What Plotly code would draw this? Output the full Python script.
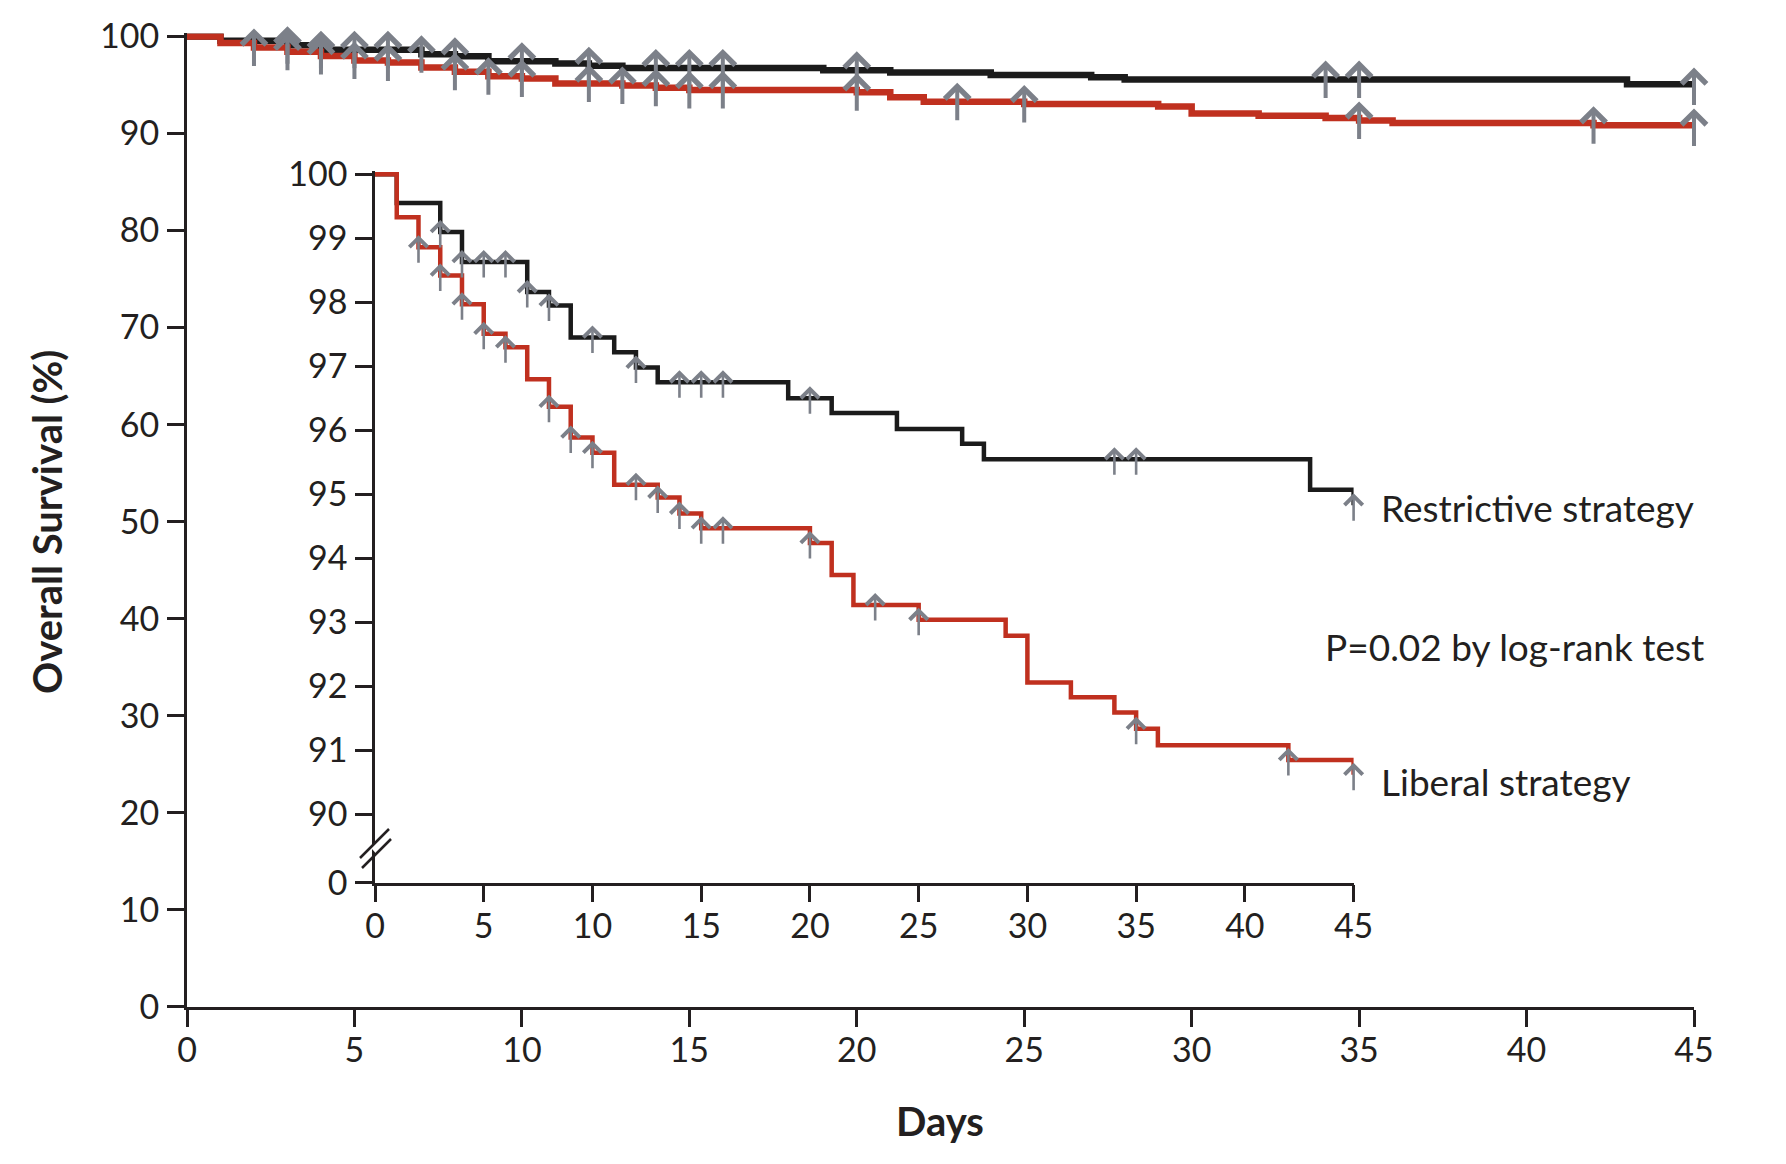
import plotly.graph_objects as go

# ---------------- data ----------------
days_restrictive = [0, 1, 3, 4, 7, 8, 9, 11, 12, 13, 19, 21, 24, 27, 28, 43, 45]
surv_restrictive = [100, 99.55, 99.10, 98.63, 98.16, 97.95, 97.45, 97.22, 96.98,
                    96.75, 96.50, 96.27, 96.02, 95.79, 95.55, 95.07, 94.83]
censor_restrictive = [3, 4, 5, 6, 7, 8, 10, 12, 14, 15, 16, 20, 34, 35, 45]

days_liberal = [0, 1, 2, 3, 4, 5, 6, 7, 8, 9, 10, 11, 13, 14, 15, 20, 21, 22, 25,
                29, 30, 32, 34, 35, 36, 42, 45]
surv_liberal = [100, 99.33, 98.86, 98.42, 97.97, 97.51, 97.30, 96.80, 96.37, 95.89,
                95.65, 95.15, 94.95, 94.70, 94.47, 94.24, 93.74, 93.27, 93.04, 92.79,
                92.06, 91.83, 91.59, 91.34, 91.08, 90.85, 90.62]
censor_liberal = [2, 3, 4, 5, 6, 8, 9, 10, 12, 13, 14, 15, 16, 20, 23, 25, 35, 42, 45]

x_ticks = [0, 5, 10, 15, 20, 25, 30, 35, 40, 45]
main_y_ticks = [0, 10, 20, 30, 40, 50, 60, 70, 80, 90, 100]
inset_y_ticks = [90, 91, 92, 93, 94, 95, 96, 97, 98, 99, 100]
inset_zero_label = "0"

label_restrictive = "Restrictive strategy"
label_liberal = "Liberal strategy"
p_text = "P=0.02 by log-rank test"
y_title = "Overall Survival (%)"
x_title = "Days"

# ---------------- styling / geometry ----------------
PAGE_W, PAGE_H = 1786, 1164
BODY = 8                      # default page margin around the figure
W, H = PAGE_W - 2 * BODY, PAGE_H - 2 * BODY
BLACK = "#1b1b1b"
RED = "#c0301f"
GRAY = "#7c8089"
TEXT = "#231f20"
FONT = "Lato"

# main plot (page-pixel positions of axis ends)
M_X0, M_X45 = 187.0, 1694.0
M_Y0, M_Y100 = 1007.0, 36.4
M_YTOP = 100.3
# inset
I_X0, I_X45 = 375.0, 1353.6
I_Y100, I_Y90, I_YBOT = 174.3, 814.4, 882.7
I_YTOP = 100.05

m_scale = (M_Y0 - M_Y100) / 100.0
i_scale = (I_Y90 - I_Y100) / 10.0
inset_bottom = 90 - (I_YBOT - I_Y90) / i_scale


def px_x(p):
    return (p - BODY) / W


def px_y(p):
    return 1 - (p - BODY) / H


main_xdom = [px_x(M_X0), px_x(M_X45)]
main_ydom = [px_y(M_Y0), px_y(M_Y0 - M_YTOP * m_scale)]
inset_xdom = [px_x(I_X0), px_x(I_X45)]
inset_ydom = [px_y(I_YBOT), px_y(I_Y100 - (I_YTOP - 100) * i_scale)]


def surv_at(days, surv, t):
    v = surv[0]
    for d, s in zip(days, surv):
        if d <= t:
            v = s
    return v


fig = go.Figure()

series = [
    (days_restrictive, surv_restrictive, BLACK),
    (days_liberal, surv_liberal, RED),
]
for d, s, c in series:
    fig.add_trace(go.Scatter(x=d, y=s, mode="lines", xaxis="x", yaxis="y",
                             line=dict(shape="hv", color=c, width=6.5),
                             showlegend=False, hoverinfo="skip"))
for d, s, c in series:
    fig.add_trace(go.Scatter(x=d, y=s, mode="lines", xaxis="x2", yaxis="y2",
                             line=dict(shape="hv", color=c, width=4.5),
                             showlegend=False, hoverinfo="skip"))

annotations = []


def add_censors(days, surv, times, xref, yref, tip, tail, width, size):
    for t in times:
        annotations.append(dict(
            x=t, y=surv_at(days, surv, t), xref=xref, yref=yref, text="",
            font=dict(size=2), showarrow=True, arrowhead=4, arrowsize=size,
            arrowwidth=width, arrowcolor=GRAY, ax=0, ay=tip + tail, yshift=tip,
            standoff=0, borderpad=0))


add_censors(days_restrictive, surv_restrictive, censor_restrictive, "x", "y", 19, 19, 4, 1.2)
add_censors(days_liberal, surv_liberal, censor_liberal, "x", "y", 19, 19, 4, 1.2)
add_censors(days_restrictive, surv_restrictive, censor_restrictive, "x2", "y2", 12, 16, 2.6, 1.35)
add_censors(days_liberal, surv_liberal, censor_liberal, "x2", "y2", 12, 16, 2.6, 1.35)

txt_font = dict(family=FONT, size=37, color=TEXT)
title_font = dict(family=FONT, size=40, color=TEXT)
annotations += [
    dict(x=px_x(47), y=px_y(522), xref="paper", yref="paper", text="<b>" + y_title + "</b>",
         textangle=-90, showarrow=False, font=title_font,
         xanchor="center", yanchor="middle"),
    dict(x=px_x(940), y=px_y(1121), xref="paper", yref="paper", text="<b>" + x_title + "</b>",
         showarrow=False, font=title_font, xanchor="center", yanchor="middle"),
    dict(x=px_x(1379), y=px_y(508), xref="paper", yref="paper", text=label_restrictive,
         showarrow=False, font=txt_font, xanchor="left", yanchor="middle"),
    dict(x=px_x(1323), y=px_y(646), xref="paper", yref="paper", text=p_text,
         showarrow=False, font=txt_font, xanchor="left", yanchor="middle"),
    dict(x=px_x(1379), y=px_y(781), xref="paper", yref="paper", text=label_liberal,
         showarrow=False, font=txt_font, xanchor="left", yanchor="middle"),
]

# axis-break marks on the inset y axis
shapes = [
    dict(type="line", xref="paper", yref="paper", x0=px_x(372), x1=px_x(378),
         y0=px_y(845), y1=px_y(852), line=dict(color="white", width=5)),
    dict(type="line", xref="paper", yref="paper", x0=px_x(360), y0=px_y(858),
         x1=px_x(389), y1=px_y(829), line=dict(color=TEXT, width=2.5)),
    dict(type="line", xref="paper", yref="paper", x0=px_x(362), y0=px_y(868),
         x1=px_x(391), y1=px_y(839), line=dict(color=TEXT, width=2.5)),
]

tick_font = dict(family=FONT, size=34, color=TEXT)
common = dict(showline=True, linecolor=TEXT, ticks="outside", tickcolor=TEXT,
              ticklen=17, showgrid=False, zeroline=False, tickfont=tick_font,
              automargin=False, fixedrange=True)

fig.update_layout(
    width=W, height=H,
    margin=dict(l=0, r=0, t=0, b=0),
    paper_bgcolor="white", plot_bgcolor="rgba(0,0,0,0)",
    template="none",
    xaxis=dict(domain=main_xdom, range=[0, 45], anchor="y", tickvals=x_ticks,
               linewidth=3, tickwidth=2.5, ticklabelstandoff=-6, **common),
    yaxis=dict(domain=main_ydom, range=[0, M_YTOP], anchor="x", tickvals=main_y_ticks,
               linewidth=3, tickwidth=2.5, ticklabelstandoff=1, **common),
    xaxis2=dict(domain=inset_xdom, range=[0, 45], anchor="y2", tickvals=x_ticks,
                linewidth=2.5, tickwidth=2.5, ticklabelstandoff=-5, **common),
    yaxis2=dict(domain=inset_ydom, range=[inset_bottom, I_YTOP], anchor="x2",
                tickvals=[inset_bottom] + inset_y_ticks,
                ticktext=[inset_zero_label] + [str(v) for v in inset_y_ticks],
                linewidth=2.5, tickwidth=2.5, ticklabelstandoff=1, **common),
    annotations=annotations,
    shapes=shapes,
)

fig.write_html("out.html")
